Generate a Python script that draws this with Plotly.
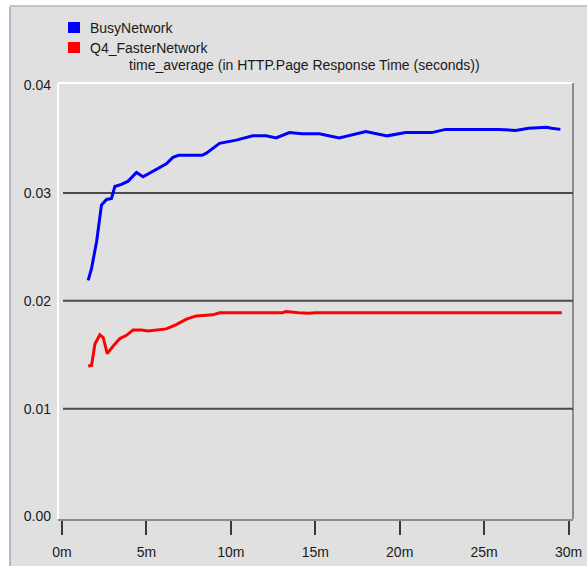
import plotly.graph_objects as go

# ---- data (minutes, seconds) ----
series_names = ["BusyNetwork", "Q4_FasterNetwork"]
series_colors = ["#0000ff", "#ff0000"]

busy_t = [1.55, 1.75, 2.05, 2.34, 2.64, 2.93, 3.13, 3.52, 3.92, 4.41, 4.8, 5.39, 6.18,
          6.57, 6.9, 8.3, 8.55, 9.33, 10.32, 11.3, 12.09, 12.68, 13.47, 14.2, 15.24,
          16.42, 17.2, 18.0, 19.26, 20.36, 21.9, 22.72, 25.87, 26.86, 27.64, 28.7, 29.0, 29.52]
busy_v = [0.0219, 0.0230, 0.0255, 0.0289, 0.0294, 0.0295, 0.0306, 0.0308, 0.0311, 0.0319,
          0.0315, 0.0320, 0.0327, 0.0333, 0.0335, 0.0335, 0.0337, 0.0346, 0.0349, 0.0353,
          0.0353, 0.0351, 0.0356, 0.0355, 0.0355, 0.0351, 0.0354, 0.0357, 0.0353, 0.0356,
          0.0356, 0.0359, 0.0359, 0.0358, 0.0360, 0.0361, 0.0360, 0.0359]

fast_t = [1.55, 1.75, 1.95, 2.24, 2.44, 2.68, 3.03, 3.43, 3.82, 4.21, 4.71, 5.1, 6.18,
          6.77, 7.37, 7.96, 8.94, 9.33, 13.06, 13.27, 14.0, 14.65, 15.0, 29.6]
fast_v = [0.01395, 0.0140, 0.0160, 0.01685, 0.0166, 0.0151, 0.0158, 0.0165, 0.0168,
          0.0173, 0.0173, 0.0172, 0.0174, 0.0178, 0.0183, 0.0186, 0.0187, 0.0189, 0.0189,
          0.0190, 0.0189, 0.01885, 0.0189, 0.0189]

x_tickvals = [0, 5, 10, 15, 20, 25, 30]
x_ticktext = ["0m", "5m", "10m", "15m", "20m", "25m", "30m"]
y_tickvals = [0.0, 0.01, 0.02, 0.03, 0.04]
y_ticktext = ["0.00", "0.01", "0.02", "0.03", "0.04"]
title_text = "time_average (in HTTP.Page Response Time (seconds))"

# ---- layout geometry (window pixels) ----
W, H = 587, 566
L, R, T, B = 58, 573, 83, 519          # plot frame
FONT = "Liberation Sans, Arial, sans-serif"
BG = "#e0e0e0"


def px(x):
    return (x - L) / (R - L)


def py(y):
    return (B - y) / (B - T)


fig = go.Figure()
fig.add_trace(go.Scatter(x=busy_t, y=busy_v, mode="lines", name=series_names[0],
                         line=dict(color=series_colors[0], width=3), showlegend=False))
fig.add_trace(go.Scatter(x=fast_t, y=fast_v, mode="lines", name=series_names[1],
                         line=dict(color=series_colors[1], width=3), showlegend=False))

shapes = []
# outer panel
shapes.append(dict(type="rect", xref="paper", yref="paper", x0=px(10), x1=px(600),
                   y0=py(580), y1=py(7), fillcolor=BG, line=dict(width=0), layer="below"))
shapes.append(dict(type="line", xref="paper", yref="paper", x0=px(10), x1=px(10),
                   y0=py(580), y1=py(7), line=dict(color="#b4b6c8", width=2), layer="below"))
shapes.append(dict(type="line", xref="paper", yref="paper", x0=px(10), x1=px(600),
                   y0=py(6), y1=py(6), line=dict(color="#c4c4d0", width=2), layer="below"))
# plot frame: white top/left, grey right/bottom
shapes.append(dict(type="line", xref="paper", yref="paper", x0=0, x1=1, y0=1, y1=1,
                   line=dict(color="#ffffff", width=2), layer="below"))
shapes.append(dict(type="line", xref="paper", yref="paper", x0=0, x1=0, y0=0, y1=1,
                   line=dict(color="#ffffff", width=2), layer="below"))
shapes.append(dict(type="line", xref="paper", yref="paper", x0=1, x1=1, y0=0, y1=1,
                   line=dict(color="#8c8c8c", width=2), layer="below"))
# horizontal grid lines at inner tick values
for v in y_tickvals[1:-1]:
    shapes.append(dict(type="line", xref="paper", yref="y", x0=px(63), x1=1, y0=v, y1=v,
                       line=dict(color="#4a4a4a", width=2), layer="below"))
# legend squares
for i, c in enumerate(series_colors):
    yc = 27.5 + 20 * i
    shapes.append(dict(type="rect", xref="paper", yref="paper", x0=px(68), x1=px(80),
                       y0=py(yc + 5.5), y1=py(yc - 5.5), fillcolor=c, line=dict(width=0)))

annotations = []
for i, n in enumerate(series_names):
    annotations.append(dict(xref="paper", yref="paper", x=px(88), y=py(28 + 20 * i),
                            text=n, showarrow=False, xanchor="left", yanchor="middle",
                            font=dict(family=FONT, size=14, color="#1a1a1a")))
annotations.append(dict(xref="paper", yref="paper", x=px(127), y=py(65), text=title_text,
                        showarrow=False, xanchor="left", yanchor="middle",
                        font=dict(family=FONT, size=14, color="#1a1a1a")))

x_per_min = (568.5 - 62) / 30.0
x0 = -(62 - L) / x_per_min
x1 = 30 + (R - 568.5) / x_per_min
y_per = (516.5 - 193) / 0.03
ylo = -(B - 516.5) / y_per
yhi = 0.03 + (193 - T) / y_per

fig.update_layout(
    template="none",
    width=W, height=H,
    autosize=False,
    margin=dict(l=L, r=W - R, t=T, b=H - B, pad=0, autoexpand=False),
    paper_bgcolor="#ffffff",
    plot_bgcolor="rgba(0,0,0,0)",
    shapes=shapes,
    annotations=annotations,
    font=dict(family=FONT, size=14, color="#1a1a1a"),
    xaxis=dict(range=[x0, x1], tickvals=x_tickvals, ticktext=x_ticktext, showgrid=False,
               zeroline=False, showline=True, linecolor="#8c8c8c", linewidth=2,
               ticks="outside", ticklen=14, tickwidth=2, tickcolor="#3a3a3a",
               automargin=False,
               ticklabelstandoff=5, tickfont=dict(family=FONT, size=14, color="#1a1a1a")),
    yaxis=dict(range=[ylo, yhi], tickvals=y_tickvals, ticktext=y_ticktext, showgrid=False,
               zeroline=False, showline=False, ticks="", ticklabelstandoff=6,
               automargin=False,
               tickfont=dict(family=FONT, size=14, color="#1a1a1a")),
)

fig.write_html(
    "out.html",
    config={"displayModeBar": False},
    post_script="document.documentElement.style.margin='0';document.body.style.margin='0';"
                "document.documentElement.style.overflow='hidden';document.body.style.overflow='hidden';",
)
